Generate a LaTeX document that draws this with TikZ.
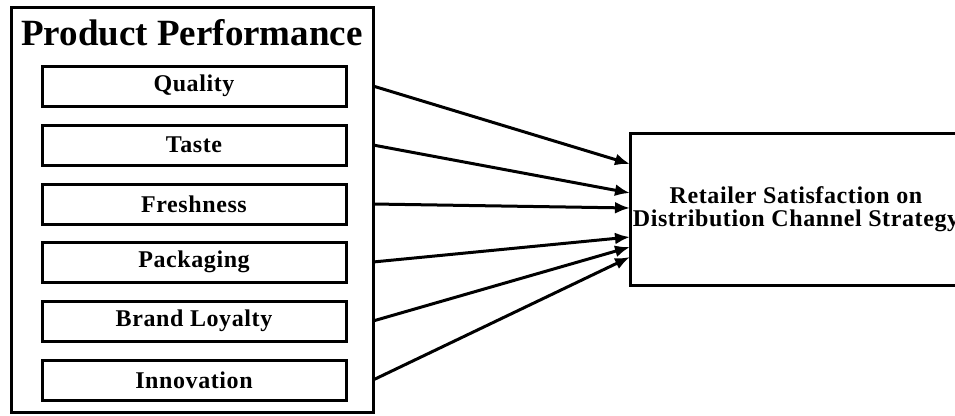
\documentclass[tikz,border=0pt]{standalone}
\usepackage{fontspec}
\setmainfont{Liberation Serif}
\usetikzlibrary{arrows.meta}
\newfontfamily\labelfont[LetterSpace=2.5]{Liberation Serif}
\begin{document}
\begin{tikzpicture}[x=1pt,y=-1pt,
  frame/.style={draw=black,line width=3pt,inner sep=0pt,outer sep=0pt},
  labeltext/.style={font=\labelfont\bfseries\fontsize{24}{23}\selectfont},
  itembox/.style={frame,labeltext,minimum width=304pt,minimum height=40pt},
  link/.style={line width=3pt,-{Latex[length=15pt,width=12pt]}}]
\useasboundingbox (0,0) rectangle (955,415);
\node[frame,minimum width=362pt,minimum height=405pt] (pp) at (192,209.5) {};
\node[font=\bfseries\fontsize{37}{37}\selectfont] (title) at (192,33) {Product Performance};
\node[itembox] (q) at (194,86) {Quality};
\node[itembox] (t) at (194,145) {Taste};
\node[itembox] (f) at (194,204) {Freshness};
\node[itembox] (p) at (194,262) {Packaging};
\node[itembox] (b) at (194,321) {Brand Loyalty};
\node[itembox] (i) at (194,380) {Innovation};
\node[frame,labeltext,minimum width=332pt,minimum height=152pt,align=center] (rs) at (796,209)
  {Retailer Satisfaction on\\Distribution Channel Strategy};
\draw[link] (q -| pp.east) -- ([yshift=45pt]rs.west);
\draw[link] (t -| pp.east) -- ([yshift=16pt]rs.west);
\draw[link] (f -| pp.east) -- ([yshift=1pt]rs.west);
\draw[link] (p -| pp.east) -- ([yshift=-28pt]rs.west);
\draw[link] (b -| pp.east) -- ([yshift=-38pt]rs.west);
\draw[link] (i -| pp.east) -- ([yshift=-48pt]rs.west);
\end{tikzpicture}
\end{document}
